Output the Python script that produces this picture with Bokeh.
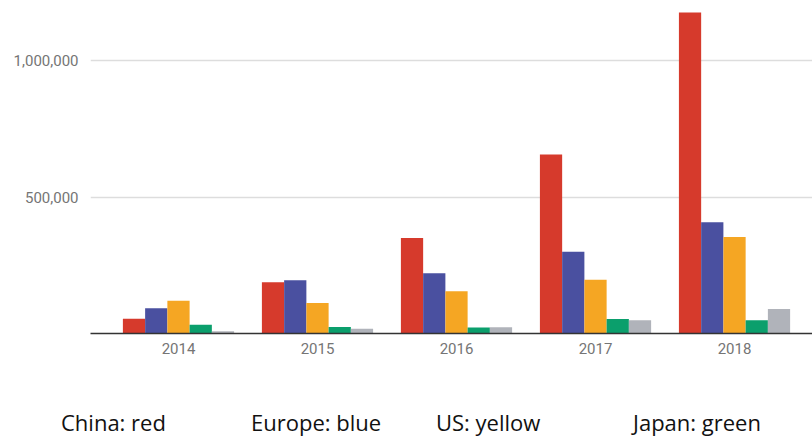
from bokeh.plotting import figure
from bokeh.models import Range1d, FixedTicker, NumeralTickFormatter, ColumnDataSource, Div
from bokeh.layouts import column
from bokeh.embed import file_html
from bokeh.resources import INLINE

years = ["2014", "2015", "2016", "2017", "2018"]
china = [54000, 188000, 350000, 657000, 1178000]
europe = [93000, 195000, 221000, 300000, 408000]
us = [120000, 112000, 155000, 197000, 354000]
japan = [32000, 24000, 22000, 53000, 49000]
other = [8000, 17000, 23000, 49000, 90000]
series = [china, europe, us, japan, other]
colors = ["#D63A2C", "#4A50A0", "#F5A623", "#0B9F6C", "#B0B3BA"]
legend_texts = ["China: red", "Europe: blue", "US: yellow", "Japan: green"]
y_ticks = [500000, 1000000]

p = figure(width=812, height=360, output_backend="svg", toolbar_location=None,
           x_range=Range1d(-0.633, 4.561), y_range=Range1d(0, 1222000),
           min_border_left=90, min_border_right=0, min_border_top=0, min_border_bottom=27)
p.outline_line_color = None
p.background_fill_color = "white"
p.border_fill_color = "white"

bw = 0.16
idx = list(range(len(years)))
for k, (vals, col) in enumerate(zip(series, colors)):
    off = (k - 2) * bw
    src = ColumnDataSource(dict(x=[i + off for i in idx], top=vals))
    p.vbar(x="x", top="top", width=bw, bottom=0, source=src, fill_color=col, line_color=None)

p.xgrid.grid_line_color = None
p.ygrid.grid_line_color = "#DDDDDD"
p.ygrid.grid_line_width = 1.3
p.yaxis.ticker = FixedTicker(ticks=y_ticks)
p.yaxis.formatter = NumeralTickFormatter(format="0,0")
p.yaxis.axis_line_color = None
p.yaxis.major_tick_line_color = None
p.yaxis.minor_tick_line_color = None
p.yaxis.major_tick_out = 0
p.yaxis.major_label_standoff = 12
p.yaxis.major_label_text_font = "Roboto"
p.yaxis.major_label_text_font_size = "15px"
p.yaxis.major_label_text_color = "#757575"

p.xaxis.ticker = FixedTicker(ticks=idx)
p.xaxis.major_label_overrides = {i: y for i, y in zip(idx, years)}
p.xaxis.axis_line_color = "#333333"
p.xaxis.axis_line_width = 1.3
p.xaxis.major_tick_line_color = None
p.xaxis.minor_tick_line_color = None
p.xaxis.major_tick_out = 0
p.xaxis.major_label_standoff = 9
p.xaxis.major_label_text_font = "Roboto"
p.xaxis.major_label_text_font_size = "15px"
p.xaxis.major_label_text_color = "#757575"

lx = [61, 251, 436, 633]
spans = "".join(
    f'<span style="position:absolute;left:{x}px;top:51px;line-height:22px;white-space:nowrap;">{t}</span>'
    for t, x in zip(legend_texts, lx))
html = ('<div style="position:relative;width:812px;height:77px;font-family:\'Open Sans\';'
        'font-size:22px;color:#111111;">' + spans + '</div>')
d = Div(text=html, width=812, height=77, margin=0)

layout = column(p, d, spacing=0)
open("out.html", "w").write(file_html(layout, INLINE))
